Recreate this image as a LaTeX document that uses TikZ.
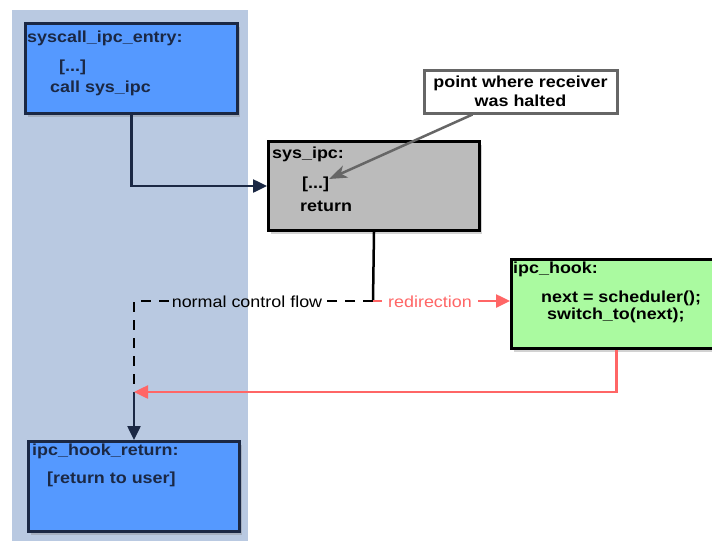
\documentclass[tikz,border=0pt]{standalone}
\usepackage{fontspec}
\setmainfont[FakeStretch=1.12]{Liberation Sans}
\usetikzlibrary{arrows.meta,shadows,calc}
\definecolor{panel}{RGB}{185,201,225}
\definecolor{bluefill}{RGB}{85,153,255}
\definecolor{navy}{RGB}{27,40,68}
\definecolor{grayfill}{RGB}{187,187,187}
\definecolor{greenfill}{RGB}{170,250,160}
\definecolor{redline}{RGB}{255,102,102}
\definecolor{notegray}{RGB}{102,102,102}
\begin{document}
\begin{tikzpicture}[x=1pt,y=-1pt,
  font=\fontsize{16}{19}\selectfont,
  box/.style={draw, line width=3pt, anchor=north west, inner sep=0pt,
    drop shadow={opacity=0.35, shadow xshift=2pt, shadow yshift=-3pt}},
  bluebox/.style={box, fill=bluefill, draw=navy},
  graybox/.style={box, fill=grayfill, draw=black},
  greenbox/.style={box, fill=greenfill, draw=black},
  notebox/.style={draw=notegray, fill=white, line width=3pt, inner sep=0pt, align=center, font=\fontsize{16}{19}\selectfont\bfseries},
  lbl/.style={anchor=base west, inner sep=0pt, font=\fontsize{16}{19}\selectfont\bfseries},
  flowlbl/.style={anchor=base, inner sep=3pt},
  navyline/.style={draw=navy, line width=2.5pt},
  blackline/.style={draw=black, line width=2.5pt},
  dashline/.style={draw=black, line width=2.5pt, dash pattern=on 10pt off 8pt},
  redl/.style={draw=redline, line width=2.5pt},
  tip/.style={-{Triangle[length=14pt,width=13pt]}},
]
\clip (0,0) rectangle (712,541);
\fill[white] (0,0) rectangle (712,541);
\fill[panel] (12,10) rectangle (248,541);

% boxes
\node[bluebox, minimum width=212pt, minimum height=90pt] (entry) at (24,22) {};
\node[graybox, minimum width=211pt, minimum height=89pt] (sysipc) at (267,140) {};
\node[greenbox, minimum width=210pt, minimum height=89pt] (hook) at (510,258) {};
\node[bluebox, minimum width=211pt, minimum height=90pt] (ret) at (27,440) {};
\node[notebox, minimum width=193pt, minimum height=43pt] (note) at (520.5,91.5) {point where receiver\\was halted};

% texts
\node[lbl, text=navy] (e1) at (27,42) {syscall\_ipc\_entry:};
\node[lbl, text=navy] (e2) at (59,71) {[...]};
\node[lbl, text=navy] (e3) at (50,92) {call sys\_ipc};
\node[lbl] (s1) at (272,158) {sys\_ipc:};
\node[lbl] (s2) at (302,188) {[...]};
\node[lbl] (s3) at (300,211) {return};
\node[lbl] (h1) at (513,273) {ipc\_hook:};
\node[lbl] (h2) at (541,302) {next = scheduler();};
\node[lbl] (h3) at (547,319) {switch\_to(next);};
\node[lbl, text=navy] (r1) at (32,455) {ipc\_hook\_return:};
\node[lbl, text=navy] (r2) at (47,483) {[return to user]};

\node[flowlbl] (ncf) at (247,307) {normal control flow};
\node[flowlbl, text=redline, inner xsep=6pt] (redir) at (430,307) {redirection};

% coordinates
\coordinate (split) at (373,301);
\coordinate (corner) at (133,301);
\coordinate (join) at (133,392);
\coordinate (dots) at (329,179);

% connectors
\draw[navyline, tip] (entry.south) |- (sysipc.west);
\draw[blackline] (sysipc.south) -- (split);
\draw[dashline] (split) -- (ncf.east |- split);
\draw[dashline] (ncf.west |- split) -- (corner -| ret.north) -- (join -| ret.north);
\draw[navyline, tip] (join -| ret.north) -- (ret.north);
\draw[redl] (split) -- (redir.west |- split);
\draw[redl, tip] (redir.east |- split) -- (hook.west |- split);
\draw[redl, tip] (hook.south) |- (join -| ret.north);
\draw[draw=notegray, line width=2.5pt, -{Stealth[length=18pt,width=13pt,inset=5pt]}]
  ($(note.south west)!0.255!(note.south east)$) -- (dots);
\end{tikzpicture}
\end{document}
